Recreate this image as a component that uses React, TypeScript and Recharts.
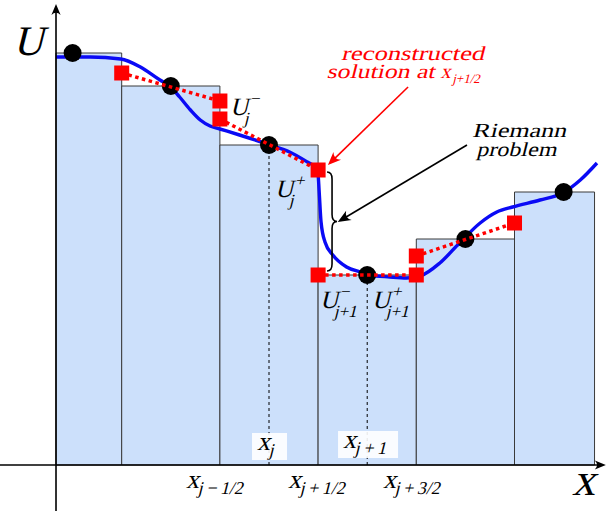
import React from "react";
import {
  ComposedChart,
  XAxis,
  YAxis,
  Line,
  Scatter,
  ReferenceArea,
  ReferenceLine,
  ReferenceDot,
} from "recharts";

const WIDTH = 608;
const HEIGHT = 511;
const SERIF = '"Liberation Serif", "DejaVu Serif", serif';

// finite volume cells: interfaces on integers, cell centres on half-integers
const cellLeft = [0.331, 1, 2, 3, 4, 5];
const cellRight = [1, 2, 3, 4, 5, 5.815];
const cellCenter = [0.5, 1.5, 2.5, 3.5, 4.5, 5.5];
const cellAverage = [4.12, 3.79, 3.2, 1.9, 2.26, 2.73];

// linear reconstruction in cells 2..5 (indices into the cell arrays)
const reconCell = [1, 2, 3, 4];
const reconMinus = [3.92, 3.46, 1.9, 2.09]; // value at left interface
const reconPlus = [3.64, 2.95, 1.9, 2.42]; // value at right interface

// the underlying smooth solution U(x)
const solX = [
  0.33, 0.68, 0.99, 1.19, 1.39, 1.49, 1.59, 1.7, 1.8, 1.9, 2.0, 2.2, 2.51,
  2.71, 2.89, 2.97, 3.0, 3.01, 3.03, 3.07, 3.15, 3.29, 3.43, 3.52, 3.73, 3.9,
  4.04, 4.24, 4.44, 4.65, 4.82, 4.98, 5.26, 5.49, 5.67, 5.84,
];
const solU = [
  4.08, 4.08, 4.06, 3.98, 3.85, 3.79, 3.68, 3.55, 3.45, 3.39, 3.36, 3.3, 3.2,
  3.13, 3.03, 2.98, 2.9, 2.75, 2.43, 2.23, 2.1, 1.98, 1.93, 1.9, 1.88, 1.87,
  1.89, 2.02, 2.22, 2.42, 2.53, 2.58, 2.65, 2.72, 2.85, 3.02,
];

const solution = solX.map((x, i) => ({ x, u: solU[i] }));
const averages = cellCenter.map((x, i) => ({ x, u: cellAverage[i] }));
const squares = reconCell.flatMap((c, i) => [
  { x: cellLeft[c], u: reconMinus[i] },
  { x: cellRight[c], u: reconPlus[i] },
]);

const arrowShape =
  (color: string, width: number, head = 12) =>
  (p: any) => {
    const { x1, y1, x2, y2 } = p;
    const a = Math.atan2(y2 - y1, x2 - x1);
    const c = Math.cos(a);
    const s = Math.sin(a);
    const pt = (dx: number, dy: number) =>
      `${x2 + dx * c - dy * s},${y2 + dx * s + dy * c}`;
    const d = `M${pt(0, 0)} L${pt(-head, -head * 0.42)} Q${pt(-head * 0.6, 0)} ${pt(
      -head,
      head * 0.42
    )} Z`;
    return (
      <g>
        <line
          x1={x1}
          y1={y1}
          x2={x2 - head * 0.6 * c}
          y2={y2 - head * 0.6 * s}
          stroke={color}
          strokeWidth={width}
        />
        <path d={d} fill={color} />
      </g>
    );
  };

const braceShape = (p: any) => {
  const { x1, y1, y2 } = p;
  const w = 10;
  const r = 7;
  const ym = (y1 + y2) / 2;
  const xm = x1 + w / 2;
  const d = `M${x1},${y1} Q${xm},${y1} ${xm},${y1 + r} L${xm},${ym - r} Q${xm},${ym} ${
    x1 + w
  },${ym} Q${xm},${ym} ${xm},${ym + r} L${xm},${y2 - r} Q${xm},${y2} ${x1},${y2}`;
  return <path d={d} fill="none" stroke="#000" strokeWidth={1.6} />;
};

// math-italic look: upright serif, slanted
const Slant = ({ x, y, children, fill = "#000", fontSize = 20 }: any) => (
  <g transform={`translate(${x},${y}) skewX(-14)`}>
    <text x={0} y={0} fill={fill} fontSize={fontSize} style={{ fontFamily: SERIF }}>
      {children}
    </text>
  </g>
);

const uLabel = (sup: string, sub: string) => (p: any) => (
  <Slant x={p.cx} y={p.cy} fontSize={25}>
    <tspan x={0} y={0}>
      U
    </tspan>
    <tspan x={17} y={-11} fontSize={17}>
      {sup}
    </tspan>
    <tspan x={16} y={9} fontSize={17}>
      {sub}
    </tspan>
  </Slant>
);

const xLabel = (sub: string, box?: number) => (p: any) => (
  <g>
    {box ? (
      <rect x={p.cx - 5} y={p.cy - 17} width={box} height={27} fill="#fff" opacity={0.9} />
    ) : null}
    <Slant x={p.cx} y={p.cy} fontSize={26}>
      <tspan>x</tspan>
      <tspan fontSize={18} dy={6}>
        {sub}
      </tspan>
    </Slant>
  </g>
);

export default function App() {
  return (
    <div style={{ position: "absolute", left: 0, top: 0, background: "#fff" }}>
      <ComposedChart
        width={WIDTH}
        height={HEIGHT}
        margin={{ top: 0, right: 0, bottom: 0, left: 0 }}
      >
        <XAxis
          type="number"
          dataKey="x"
          domain={[-0.2393, 5.952]}
          allowDataOverflow
          hide
        />
        <YAxis type="number" domain={[-0.46, 4.65]} allowDataOverflow hide />

        {cellLeft.map((x1, i) => (
          <ReferenceArea
            key={`cell-${i}`}
            x1={x1}
            x2={cellRight[i]}
            y1={0}
            y2={cellAverage[i]}
            fill="#cce0fb"
            fillOpacity={1}
            stroke="#3a3a3a"
            strokeWidth={1}
            ifOverflow="visible"
            zIndex={10}
          />
        ))}

        {[2, 3].map((c) => (
          <ReferenceLine
            key={`dash-${c}`}
            segment={[
              { x: cellCenter[c], y: 0 },
              { x: cellCenter[c], y: cellAverage[c] },
            ]}
            stroke="#000"
            strokeWidth={1}
            strokeDasharray="3 3"
            ifOverflow="visible"
            zIndex={20}
          />
        ))}

        <Line
          data={solution}
          dataKey="u"
          type="monotone"
          stroke="#0a0af5"
          strokeWidth={3.4}
          dot={false}
          activeDot={false}
          isAnimationActive={false}
          zIndex={30}
        />

        <Scatter
          data={averages}
          dataKey="u"
          isAnimationActive={false}
          zIndex={40}
          shape={(p: any) => <circle cx={p.cx} cy={p.cy} r={9} fill="#000" />}
        />

        {reconCell.map((c, i) => (
          <ReferenceLine
            key={`recon-${c}`}
            segment={[
              { x: cellLeft[c], y: reconMinus[i] },
              { x: cellRight[c], y: reconPlus[i] },
            ]}
            stroke="#ff0000"
            strokeWidth={3.5}
            strokeDasharray="3.5 3.5"
            ifOverflow="visible"
            zIndex={50}
          />
        ))}

        <Scatter
          data={squares}
          dataKey="u"
          isAnimationActive={false}
          zIndex={60}
          shape={(p: any) => (
            <rect x={p.cx - 7.5} y={p.cy - 7.5} width={15} height={15} fill="#ff0000" />
          )}
        />

        {/* axes */}
        <ReferenceLine
          segment={[
            { x: -0.2393, y: 0 },
            { x: 5.93, y: 0 },
          ]}
          shape={arrowShape("#000", 1.6, 11)}
          ifOverflow="visible"
          zIndex={70}
        />
        <ReferenceLine
          segment={[
            { x: 0.331, y: -0.46 },
            { x: 0.331, y: 4.61 },
          ]}
          shape={arrowShape("#000", 1.6, 11)}
          ifOverflow="visible"
          zIndex={70}
        />

        {/* annotations */}
        <ReferenceLine
          segment={[
            { x: 3.916, y: 3.78 },
            { x: 3.1, y: 3.0 },
          ]}
          shape={arrowShape("#ff0000", 1.6, 13)}
          ifOverflow="visible"
          zIndex={80}
        />
        <ReferenceLine
          segment={[
            { x: 4.516, y: 3.2 },
            { x: 3.2, y: 2.43 },
          ]}
          shape={arrowShape("#000", 1.6, 13)}
          ifOverflow="visible"
          zIndex={80}
        />
        <ReferenceLine
          segment={[
            { x: 3.091, y: 2.93 },
            { x: 3.091, y: 1.94 },
          ]}
          shape={braceShape}
          ifOverflow="visible"
          zIndex={80}
        />

        <ReferenceDot
          x={-0.107}
          y={4.1}
          r={0}
          ifOverflow="visible"
          zIndex={90}
          shape={(p: any) => (
            <Slant x={p.cx} y={p.cy} fontSize={42}>
              U
            </Slant>
          )}
        />
        <ReferenceDot
          x={5.585}
          y={-0.3}
          r={0}
          ifOverflow="visible"
          zIndex={90}
          shape={(p: any) => (
            <Slant x={p.cx} y={p.cy} fontSize={46}>
              x
            </Slant>
          )}
        />

        <ReferenceDot x={2.103} y={3.5} r={0} ifOverflow="visible" zIndex={90} shape={uLabel("−", "j")} />
        <ReferenceDot x={2.561} y={2.68} r={0} ifOverflow="visible" zIndex={90} shape={uLabel("+", "j")} />
        <ReferenceDot x={3.019} y={1.57} r={0} ifOverflow="visible" zIndex={90} shape={uLabel("−", "j+1")} />
        <ReferenceDot x={3.549} y={1.57} r={0} ifOverflow="visible" zIndex={90} shape={uLabel("+", "j+1")} />

        <ReferenceDot x={1.655} y={-0.23} r={0} ifOverflow="visible" zIndex={90} shape={xLabel("j\u2009−\u20091/2")} />
        <ReferenceDot x={2.693} y={-0.23} r={0} ifOverflow="visible" zIndex={90} shape={xLabel("j\u2009+\u20091/2")} />
        <ReferenceDot x={3.66} y={-0.23} r={0} ifOverflow="visible" zIndex={90} shape={xLabel("j\u2009+\u20093/2")} />
        <ReferenceDot x={2.378} y={0.15} r={0} ifOverflow="visible" zIndex={90} shape={xLabel("j", 35)} />
        <ReferenceDot x={3.254} y={0.17} r={0} ifOverflow="visible" zIndex={90} shape={xLabel("j\u2009+\u20091", 60)} />

        <ReferenceDot
          x={3.956}
          y={4.05}
          r={0}
          ifOverflow="visible"
          zIndex={90}
          shape={(p: any) => (
            <Slant x={p.cx} y={p.cy} fill="#ff0000" fontSize={20}>
              <tspan x={-71} y={0} textLength={143} lengthAdjust="spacingAndGlyphs">
                reconstructed
              </tspan>
              <tspan x={-81} y={18} textLength={108} lengthAdjust="spacingAndGlyphs">
                solution at
              </tspan>
              <tspan x={33} y={18}>
                x
              </tspan>
              <tspan x={46} y={23} fontSize={13}>
                j+1/2
              </tspan>
            </Slant>
          )}
        />
        <ReferenceDot
          x={5.046}
          y={3.28}
          r={0}
          ifOverflow="visible"
          zIndex={90}
          shape={(p: any) => (
            <Slant x={p.cx} y={p.cy} fontSize={20}>
              <tspan x={-47} y={0} textLength={94} lengthAdjust="spacingAndGlyphs">
                Riemann
              </tspan>
              <tspan x={-38} y={19} textLength={80} lengthAdjust="spacingAndGlyphs">
                problem
              </tspan>
            </Slant>
          )}
        />
      </ComposedChart>
    </div>
  );
}
